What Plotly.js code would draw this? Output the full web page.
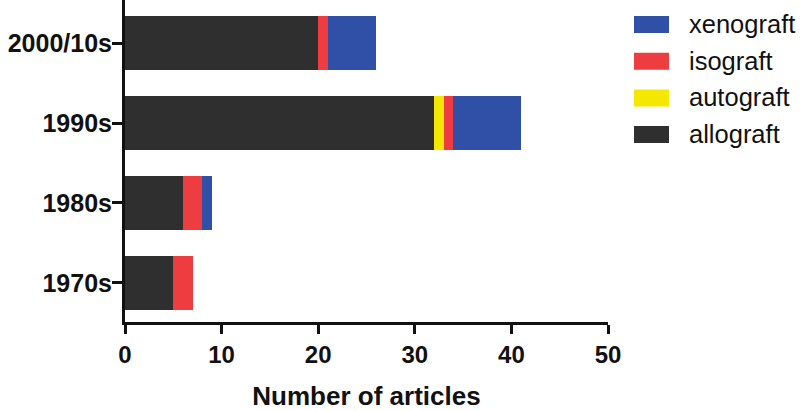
<!DOCTYPE html>
<html>
<head>
<meta charset="utf-8">
<script src="https://cdn.plot.ly/plotly-3.0.1.min.js"></script>
<style>html,body{margin:0;padding:0;background:#fff;}#chart{width:800px;height:411px;}</style>
</head>
<body>
<div id="chart"></div>
<script>
const decades = ["1970s", "1980s", "1990s", "2000/10s"];
const allograft = [5, 6, 32, 20];
const autograft = [0, 0, 1, 0];
const isograft = [2, 2, 1, 1];
const xenograft = [0, 1, 7, 5];
const seriesNames = ["allograft", "autograft", "isograft", "xenograft"];
const seriesColors = ["#2f2f2f", "#f4e800", "#ee3d40", "#3050a8"];
const seriesValues = [allograft, autograft, isograft, xenograft];
const xTicks = [0, 10, 20, 30, 40, 50];

const font = "Liberation Sans, Arial, sans-serif";

const traces = seriesNames.map((n, i) => ({
  type: "bar",
  orientation: "h",
  name: n,
  y: decades,
  x: seriesValues[i],
  marker: {color: seriesColors[i], line: {width: 0}},
  showlegend: false,
  hoverinfo: "x+name"
}));

// custom legend (top item = last series)
const shapes = [];
const annotations = [];
const legendOrder = [3, 2, 1, 0];
const plotL = 125, plotR = 608, plotT = 0, plotB = 322;
const pw = plotR - plotL, ph = plotB - plotT;
legendOrder.forEach((si, k) => {
  const top = 16 + k * 36.7, bot = top + 17;
  shapes.push({
    type: "rect", xref: "paper", yref: "paper",
    x0: (634 - plotL) / pw, x1: (669 - plotL) / pw,
    y0: (plotB - bot) / ph, y1: (plotB - top) / ph,
    fillcolor: seriesColors[si], line: {width: 0}
  });
  annotations.push({
    xref: "paper", yref: "paper", showarrow: false,
    x: (687 - plotL) / pw, y: (plotB - (top + 8)) / ph,
    xanchor: "left", yanchor: "middle",
    text: seriesNames[si],
    font: {family: font, size: 25.5, color: "#111"}
  });
});

const layout = {
  width: 800, height: 411,
  margin: {l: 125, r: 192, t: 0, b: 89},
  barmode: "stack",
  bargap: 0.32,
  paper_bgcolor: "#fff",
  plot_bgcolor: "#fff",
  showlegend: false,
  font: {family: font, color: "#111"},
  xaxis: {
    range: [0, 50],
    tickvals: xTicks,
    ticktext: xTicks.map(v => "<b>" + v + "</b>"),
    showgrid: false, zeroline: false,
    showline: true, linecolor: "#111", linewidth: 3,
    ticks: "outside", ticklen: 9, tickwidth: 3, tickcolor: "#111",
    tickfont: {family: font, size: 24, color: "#111"},
    title: {text: "<b>Number of articles</b>", font: {family: font, size: 26, color: "#111"}, standoff: 24}
  },
  yaxis: {
    range: [-0.49, 3.54],
    type: "category",
    tickvals: decades,
    ticktext: decades.map(d => "<b>" + d + "</b>"),
    showgrid: false, zeroline: false,
    showline: true, linecolor: "#111", linewidth: 3,
    ticks: "outside", ticklen: 10, tickwidth: 3, tickcolor: "#111",
    ticklabelstandoff: -5,
    tickfont: {family: font, size: 25, color: "#111"}
  },
  shapes: shapes,
  annotations: annotations
};

Plotly.newPlot("chart", traces, layout, {displayModeBar: false, staticPlot: true});
</script>
</body>
</html>
